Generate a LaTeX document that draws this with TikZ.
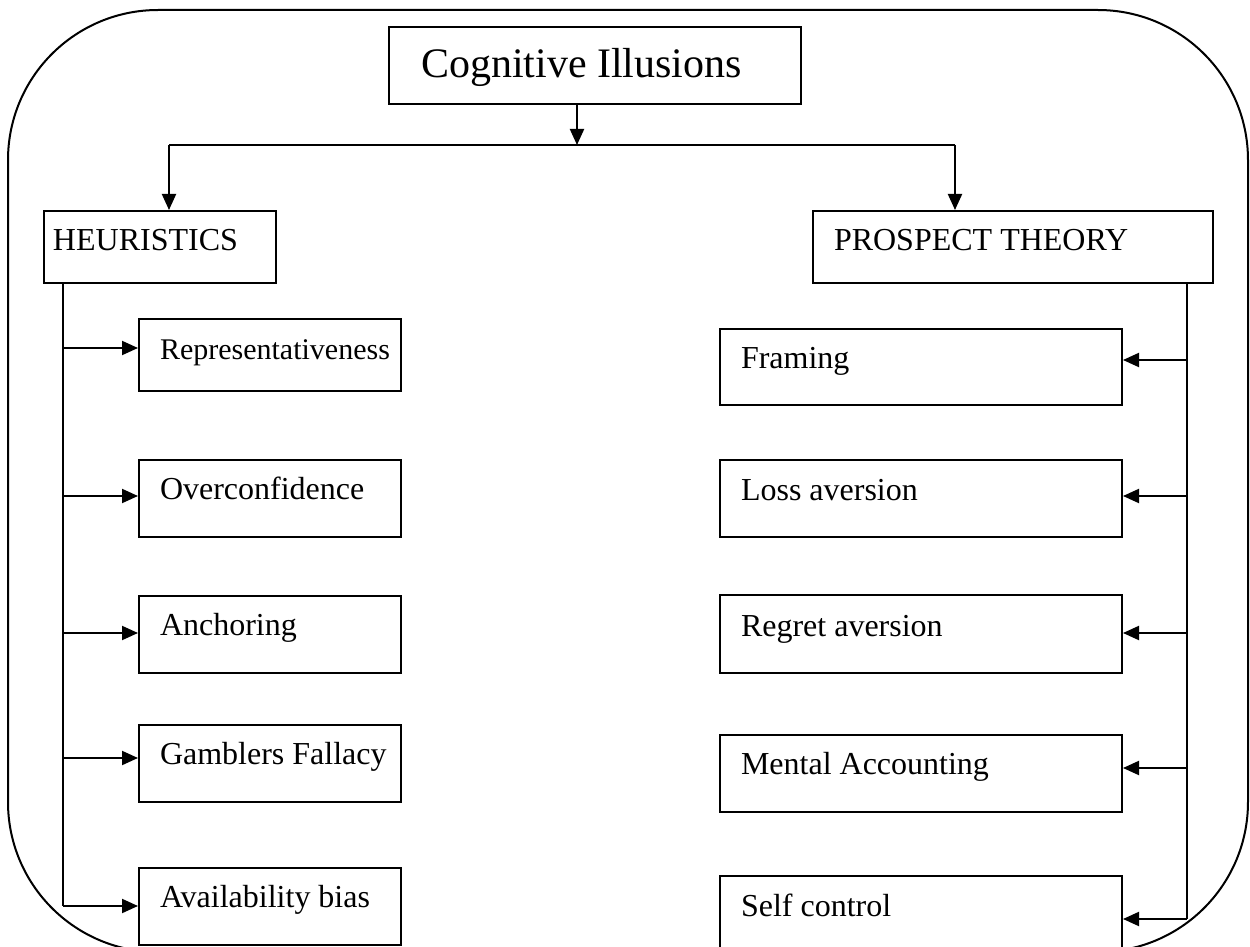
\documentclass[tikz,border=0pt]{standalone}
\usepackage{fontspec}
\setmainfont{Liberation Serif}
\usetikzlibrary{arrows.meta}
\begin{document}
\begin{tikzpicture}[x=0.5pt,y=-0.5pt,
  line width=1pt,
  bx/.style={draw, anchor=north west, inner sep=0pt, line width=1pt},
  lbl/.style={anchor=base west, inner sep=0pt, font=\fontsize{16}{19}\selectfont},
  conn/.style={-{Triangle[length=8pt,width=7pt]}, line width=1pt}]
\useasboundingbox (0,0) rectangle (1250,947);
\begin{scope}
  \clip (0,0) rectangle (1250,947);
  \draw[rounded corners=75pt] (8,10) rectangle (1248,952);
  % top level
  \node[bx, minimum width=206pt, minimum height=38.5pt] (top) at (388,26) {};
  \node[anchor=base west, inner sep=0pt, font=\fontsize{21}{25}\selectfont] (toptxt) at (420,78) {Cognitive Illusions};
  \node[bx, minimum width=116pt, minimum height=36pt] (heur) at (43,210) {};
  \node[lbl] (heurtxt) at (52,251) {HEURISTICS};
  \node[bx, minimum width=200pt, minimum height=36pt] (pros) at (812,210) {};
  \node[lbl] (prostxt) at (833,250) {PROSPECT THEORY};
  % left boxes
  \node[bx, minimum width=131pt, minimum height=36pt] (rep) at (138,318) {};
  \node[bx, minimum width=131pt, minimum height=38.5pt] (over) at (138,459) {};
  \node[bx, minimum width=131pt, minimum height=38.5pt] (anch) at (138,595) {};
  \node[bx, minimum width=131pt, minimum height=38.5pt] (gamb) at (138,724) {};
  \node[bx, minimum width=131pt, minimum height=38.5pt] (avail) at (138,867) {};
  \node[lbl, font=\fontsize{15}{18}\selectfont] (reptxt) at (159,359) {Representativeness};
  \node[lbl] (overtxt) at (159,499) {Overconfidence};
  \node[lbl] (anchtxt) at (159,635) {Anchoring};
  \node[lbl] (gambtxt) at (159,764) {Gamblers Fallacy};
  \node[lbl] (availtxt) at (159,907) {Availability bias};
  % right boxes
  \node[bx, minimum width=201pt, minimum height=38pt] (fram) at (719,328) {};
  \node[bx, minimum width=201pt, minimum height=38.5pt] (loss) at (719,459) {};
  \node[bx, minimum width=201pt, minimum height=39pt] (regr) at (719,594) {};
  \node[bx, minimum width=201pt, minimum height=38.5pt] (ment) at (719,734) {};
  \node[bx, minimum width=201pt, minimum height=40pt] (self) at (719,875) {};
  \node[lbl] (framtxt) at (740,369) {Framing};
  \node[lbl] (losstxt) at (740,500) {Loss aversion};
  \node[lbl] (regrtxt) at (740,636) {Regret aversion};
  \node[lbl] (menttxt) at (740,774) {Mental Accounting};
  \node[lbl] (selftxt) at (740,916) {Self control};
  % top connectors
  \coordinate (j) at (577,145);
  \coordinate (hl) at (169,145);
  \coordinate (hr) at (955,145);
  \draw[conn] (top.south -| j) -- (j);
  \draw (hl) -- (hr);
  \draw[conn] (hl) -- (hl |- heur.north);
  \draw[conn] (hr) -- (hr |- pros.north);
  % left spine
  \coordinate (ls) at (63,282);
  \coordinate (l1) at (63,348);
  \coordinate (l2) at (63,496);
  \coordinate (l3) at (63,633);
  \coordinate (l4) at (63,758);
  \coordinate (l5) at (63,906);
  \draw (ls |- heur.south) -- (l5);
  \draw[conn] (l1) -- (l1 -| rep.west);
  \draw[conn] (l2) -- (l2 -| over.west);
  \draw[conn] (l3) -- (l3 -| anch.west);
  \draw[conn] (l4) -- (l4 -| gamb.west);
  \draw[conn] (l5) -- (l5 -| avail.west);
  % right spine
  \coordinate (rs) at (1187,282);
  \coordinate (r1) at (1187,360);
  \coordinate (r2) at (1187,496);
  \coordinate (r3) at (1187,633);
  \coordinate (r4) at (1187,768);
  \coordinate (r5) at (1187,919);
  \draw (rs |- pros.south) -- (r5);
  \draw[conn] (r1) -- (r1 -| fram.east);
  \draw[conn] (r2) -- (r2 -| loss.east);
  \draw[conn] (r3) -- (r3 -| regr.east);
  \draw[conn] (r4) -- (r4 -| ment.east);
  \draw[conn] (r5) -- (r5 -| self.east);
\end{scope}
\end{tikzpicture}
\end{document}
